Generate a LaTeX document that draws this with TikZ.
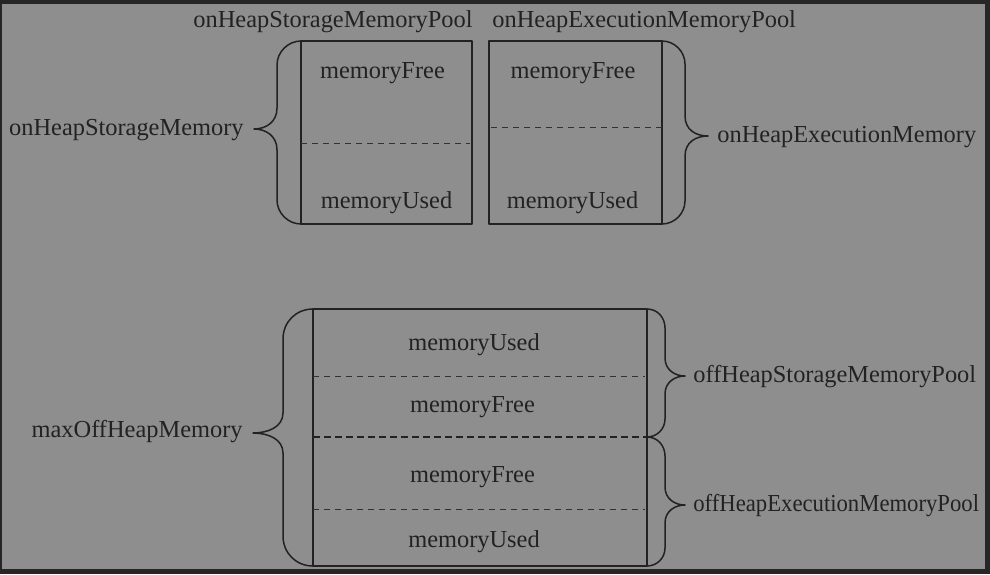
\documentclass[tikz,border=0pt]{standalone}
\usepackage{fontspec}
\setmainfont{Liberation Serif}
\definecolor{bgG}{HTML}{8E8E8E}
\definecolor{frameD}{HTML}{262626}
\definecolor{inkD}{HTML}{222222}

\begin{document}
\begin{tikzpicture}[x=0.5pt, y=-0.5pt, line join=round,
  every node/.style={inner sep=0pt, text=inkD, font=\fontsize{12.2}{14}\selectfont},
  box/.style={draw=inkD, line width=0.75pt},
  sep/.style={draw=inkD!85!bgG, line width=0.5pt, dash pattern=on 3pt off 2.5pt},
  sepB/.style={draw=inkD, line width=0.75pt, dash pattern=on 3.5pt off 2pt},
  brc/.style={draw=inkD, line width=0.75pt, line cap=round}]
\useasboundingbox (0,0) rectangle (990,574);
% 底色与外框
\fill[frameD] (0,0) rectangle (990,574);
\fill[bgG] (2,4) rectangle (985,569);
% 堆内：两个内存池
\draw[box] (301,41) rectangle (472,224);
\draw[box] (489,41) rectangle (662,224);
\draw[sep] (301,143) -- (470,143);
\draw[sep] (491,127) -- (662,127);
\draw[brc] (301,41) .. controls (288,41) and (277,52) .. (277,65) -- (277,108)
  .. controls (277,122) and (266,129) .. (254,129)
  .. controls (266,129) and (277,136) .. (277,150) -- (277,200)
  .. controls (277,213) and (288,224) .. (301,224);
\draw[brc] (662,41) .. controls (675,41) and (685,52) .. (685,64) -- (685,116)
  .. controls (685,130) and (696,136) .. (708,136)
  .. controls (696,136) and (685,142) .. (685,156) -- (685,201)
  .. controls (685,213) and (675,224) .. (662,224);
\node[anchor=base] (poolS) at (333,27) {onHeapStorageMemoryPool};
\node[anchor=base west] (poolE) at (492,27) {onHeapExecutionMemoryPool};
\node[anchor=base] (sFree) at (382.5,78) {memoryFree};
\node[anchor=base] (sUsed) at (386.5,208) {memoryUsed};
\node[anchor=base] (eFree) at (573,78) {memoryFree};
\node[anchor=base] (eUsed) at (572.5,208) {memoryUsed};
\node[anchor=base east] (sMem) at (244,135) {onHeapStorageMemory};
\node[anchor=base west] (eMem) at (717,142) {onHeapExecutionMemory};
% 堆外：一整块内存
\draw[box] (313,309) rectangle (647,566);
\draw[sep] (313,376) -- (645,376);
\draw[sepB] (313,437) -- (647,437);
\draw[sep] (313,509) -- (645,509);
\draw[brc] (313,309) .. controls (296,309) and (283,322) .. (283,339) -- (283,413)
  .. controls (283,427) and (268,433) .. (253,433)
  .. controls (268,433) and (283,439) .. (283,453) -- (283,536)
  .. controls (283,553) and (296,566) .. (313,566);
\draw[brc] (647,309) .. controls (657,309) and (665,317) .. (665,328) -- (665,358)
  .. controls (665,370) and (675,376) .. (685,376)
  .. controls (675,376) and (665,382) .. (665,394) -- (665,419)
  .. controls (665,429) and (657,437) .. (647,437);
\draw[brc] (647,437) .. controls (657,437) and (665,445) .. (665,456) -- (665,487)
  .. controls (665,499) and (675,505) .. (685,505)
  .. controls (675,505) and (665,511) .. (665,523) -- (665,548)
  .. controls (665,558) and (657,566) .. (647,566);
\node[anchor=base] (oUsedA) at (474,350) {memoryUsed};
\node[anchor=base] (oFreeA) at (472.5,412) {memoryFree};
\node[anchor=base] (oFreeB) at (472.5,482) {memoryFree};
\node[anchor=base] (oUsedB) at (474,547) {memoryUsed};
\node[anchor=base east] (maxOff) at (243,437) {maxOffHeapMemory};
\node[anchor=base west] (offS) at (693,382) {offHeapStorageMemoryPool};
\node[anchor=base west, xscale=0.93] (offE) at (693,511) {offHeapExecutionMemoryPool};
\end{tikzpicture}
\end{document}
